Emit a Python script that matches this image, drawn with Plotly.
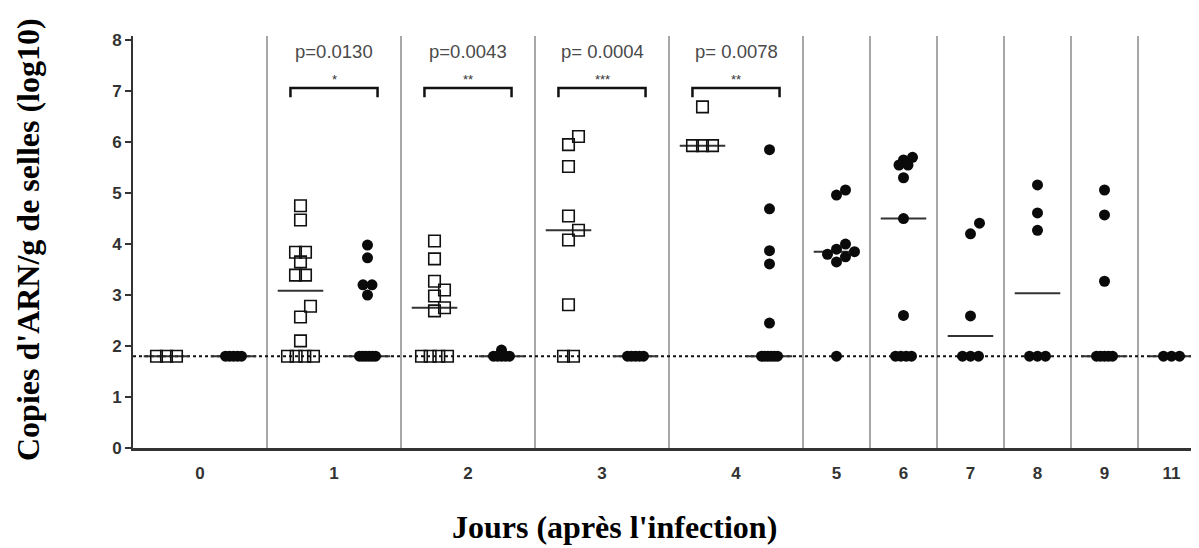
import plotly.graph_objects as go
import numpy as np

# ---------------- data ----------------
days = ["0", "1", "2", "3", "4", "5", "6", "7", "8", "9", "11"]
LOD = 1.8  # limit of detection (dotted line)

# open squares (days 0-4)
sq_d0 = [1.8, 1.8, 1.8]
sq_d1 = [4.75, 4.47, 3.84, 3.84, 3.65, 3.39, 3.39, 2.78, 2.57, 2.10, 1.8, 1.8, 1.8, 1.8]
sq_d2 = [4.06, 3.71, 3.27, 3.10, 2.98, 2.75, 2.69, 1.8, 1.8, 1.8, 1.8]
sq_d3 = [6.11, 5.95, 5.52, 4.55, 4.27, 4.08, 2.81, 1.8, 1.8]
sq_d4 = [6.69, 5.93, 5.93, 5.93]
squares = [sq_d0, sq_d1, sq_d2, sq_d3, sq_d4]

# filled circles (all days)
ci_d0 = [1.8, 1.8, 1.8, 1.8, 1.8]
ci_d1 = [3.98, 3.73, 3.20, 3.20, 3.00, 1.8, 1.8, 1.8, 1.8, 1.8, 1.8]
ci_d2 = [1.92, 1.8, 1.8, 1.8, 1.8, 1.8]
ci_d3 = [1.8, 1.8, 1.8, 1.8, 1.8]
ci_d4 = [5.85, 4.69, 3.87, 3.61, 2.45, 1.8, 1.8, 1.8, 1.8, 1.8, 1.8]
ci_d5 = [5.06, 4.96, 4.00, 3.90, 3.85, 3.80, 3.75, 3.65, 1.8]
ci_d6 = [5.70, 5.65, 5.55, 5.55, 5.30, 4.50, 2.60, 1.8, 1.8, 1.8, 1.8]
ci_d7 = [4.41, 4.20, 2.59, 1.8, 1.8, 1.8]
ci_d8 = [5.16, 4.61, 4.27, 1.8, 1.8, 1.8]
ci_d9 = [5.06, 4.57, 3.27, 1.8, 1.8, 1.8, 1.8, 1.8]
ci_d11 = [1.8, 1.8, 1.8]
circles = [ci_d0, ci_d1, ci_d2, ci_d3, ci_d4, ci_d5, ci_d6, ci_d7, ci_d8, ci_d9, ci_d11]

# comparisons (squares vs circles) on days 1-4
test_days = ["1", "2", "3", "4"]
p_values = ["p=0.0130", "p=0.0043", "p= 0.0004", "p= 0.0078"]
stars = ["*", "**", "***", "**"]

# ---------------- layout geometry ----------------
W, H = 1199, 548
ML, MR, MT, MB = 125, 2, 28, 108
YMAX = 8.08
n_slots = 2 * len(squares) + (len(days) - len(squares))
px_slot = (W - ML - MR) / n_slots
px_unit = (H - MT - MB) / YMAX

sq_slot = [2 * i for i in range(len(squares))]
ci_slot = [2 * i + 1 if i < len(squares) else len(squares) + i for i in range(len(days))]
day_center = [(sq_slot[i] + ci_slot[i]) / 2 if i < len(squares) else ci_slot[i] for i in range(len(days))]


def swarm(vals, step_px, tie_spread_px, size_px):
    vals = list(vals)
    n = len(vals)
    offs = [0.0] * n
    step = step_px / px_slot
    tol = size_px / px_unit
    uniq = {}
    for i, v in enumerate(vals):
        uniq.setdefault(v, []).append(i)
    singles = []
    for v, idx in uniq.items():
        m = len(idx)
        if m > 1:
            sp = min(step_px, tie_spread_px / (m - 1)) / px_slot
            for k, i in enumerate(idx):
                offs[i] = (k - (m - 1) / 2) * sp
        else:
            singles.append(idx[0])
    singles.sort(key=lambda i: vals[i])
    placed = []
    for i in singles:
        for c in [0, 1, -1, 2, -2, 3, -3]:
            o = c * step
            if all(not (abs(vals[i] - v) < tol and abs(o - po) < step * 0.99) for po, v in placed):
                break
        offs[i] = o
        placed.append((o, vals[i]))
    return offs


fig = go.Figure()

sx, sy, cx, cy, mx, my = [], [], [], [], [], []
half = 0.34
for i, vals in enumerate(squares):
    offs = swarm(vals, 10, 26, 11)
    sx += [sq_slot[i] + o for o in offs]
    sy += vals
    med = float(np.median(vals))
    mx += [sq_slot[i] - half, sq_slot[i] + half, None]
    my += [med, med, None]
for i, vals in enumerate(circles):
    offs = swarm(vals, 9, 16, 11)
    cx += [ci_slot[i] + o for o in offs]
    cy += vals
    med = float(np.median(vals))
    mx += [ci_slot[i] - half, ci_slot[i] + half, None]
    my += [med, med, None]

fig.add_trace(go.Scatter(x=mx, y=my, mode="lines", line=dict(color="#333333", width=2),
                         hoverinfo="skip", showlegend=False))
fig.add_trace(go.Scatter(x=sx, y=sy, mode="markers", showlegend=False,
                         marker=dict(symbol="square-open", size=11.5, color="#111111",
                                     line=dict(width=1.6, color="#111111"))))
fig.add_trace(go.Scatter(x=cx, y=cy, mode="markers", showlegend=False,
                         marker=dict(symbol="circle", size=11, color="#0a0a0a",
                                     line=dict(width=0))))

shapes = []
for i in range(len(days) - 1):
    xs = ci_slot[i] + 0.5
    shapes.append(dict(type="line", xref="x", yref="paper", x0=xs, x1=xs, y0=0, y1=1,
                       line=dict(color="#8a8a8a", width=1.5), layer="below"))
shapes.append(dict(type="line", xref="paper", yref="y", x0=0, x1=1, y0=LOD, y1=LOD,
                   line=dict(color="#111111", width=2, dash="3px,3px"), layer="below"))

annotations = []
for k, d in enumerate(test_days):
    i = days.index(d)
    x0 = sq_slot[i] - 0.15
    x1 = ci_slot[i] + 0.15
    yb, yt = 7.06, 6.88
    shapes.append(dict(type="path", xref="x", yref="y",
                       path=f"M {x0},{yt} L {x0},{yb} L {x1},{yb} L {x1},{yt}",
                       line=dict(color="#111111", width=2.5)))
    annotations.append(dict(x=day_center[i], y=7.78, xref="x", yref="y", text=p_values[k],
                            showarrow=False, font=dict(family="Liberation Sans, Arial", size=18.5, color="#4a4a4a")))
    annotations.append(dict(x=day_center[i], y=7.22, xref="x", yref="y", text=stars[k],
                            showarrow=False, font=dict(family="Liberation Sans, Arial", size=13, color="#333333")))

annotations.append(dict(x=(20 - ML) / (W - ML - MR), y=(H - MB - 232) / (H - MT - MB),
                        xref="paper", yref="paper", text="Copies d'ARN/g de selles (log10)",
                        textangle=-90, showarrow=False, xanchor="center", yanchor="middle",
                        font=dict(family="Liberation Serif, Times New Roman", size=32, color="#000000",
                                  weight="bold")))
annotations.append(dict(x=(606 - ML) / (W - ML - MR), y=-(519 - (H - MB)) / (H - MT - MB),
                        xref="paper", yref="paper", text="Jours (après l'infection)",
                        showarrow=False, xanchor="center", yanchor="middle",
                        font=dict(family="Liberation Serif, Times New Roman", size=32, color="#000000",
                                  weight="bold")))

fig.update_layout(
    width=W, height=H,
    margin=dict(l=ML, r=MR, t=MT, b=MB),
    plot_bgcolor="white", paper_bgcolor="white",
    shapes=shapes, annotations=annotations,
    xaxis=dict(range=[-0.5, n_slots - 0.5], tickvals=day_center, ticktext=days,
               showgrid=False, zeroline=False, showline=True, linecolor="#333333", linewidth=2.5,
               ticks="outside", ticklen=8, tickcolor="rgba(0,0,0,0)",
               tickfont=dict(family="Liberation Sans, Arial", size=17, color="#333333", weight="bold")),
    yaxis=dict(range=[0, YMAX], tickvals=list(range(0, 9)),
               showgrid=False, zeroline=False, showline=True, linecolor="#333333", linewidth=2,
               ticks="outside", ticklen=6, tickwidth=1.5, tickcolor="#333333",
               tickfont=dict(family="Liberation Sans, Arial", size=17, color="#333333", weight="bold")),
)

fig.write_html("out.html")
